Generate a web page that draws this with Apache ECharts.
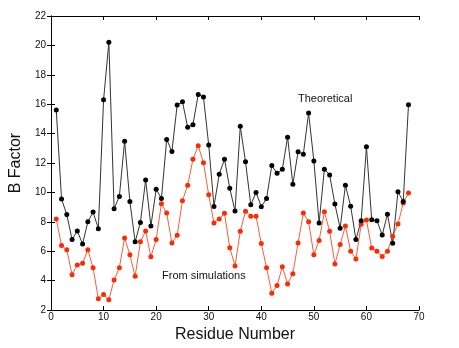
<!DOCTYPE html>
<html>
<head>
<meta charset="utf-8">
<style>
  html, body { margin: 0; padding: 0; background: #fff; }
  #chart { width: 459px; height: 348px; }
</style>
<script src="https://cdn.jsdelivr.net/npm/echarts@6/dist/echarts.min.js"></script>
</head>
<body>
<div id="chart"></div>
<script>
// Residue numbers along the chain
const residues = [];
for (let i = 1; i <= 68; i++) residues.push(i);

// B factors predicted by the theoretical model
const theoretical = [
  15.6, 9.55, 8.5, 6.8, 7.38, 6.49, 8.0, 8.67, 7.54, 16.3,
  20.22, 8.89, 9.73, 13.49, 9.39, 6.64, 7.95, 10.85, 7.72, 10.22,
  9.59, 13.6, 12.79, 15.95, 16.17, 14.43, 14.61, 16.66, 16.49, 13.22,
  9.05, 11.24, 12.25, 10.29, 8.74, 14.5, 12.08, 9.16, 10.0, 9.03,
  9.59, 11.83, 11.3, 11.57, 13.76, 10.56, 12.77, 12.6, 15.4, 12.14,
  7.93, 11.58, 11.19, 9.21, 7.57, 10.49, 9.07, 6.8, 8.08, 13.1,
  8.15, 8.08, 7.11, 8.51, 6.55, 10.04, 9.39, 15.97
];

// B factors obtained from the simulations
const simulated = [
  8.2, 6.39, 6.1, 4.41, 5.07, 5.18, 6.1, 4.88, 2.77, 3.06,
  2.7, 4.05, 4.88, 6.91, 5.76, 4.3, 6.64, 7.38, 5.63, 6.8,
  9.23, 8.6, 6.57, 7.09, 9.43, 10.49, 12.26, 13.18, 12.02, 9.84,
  7.93, 8.2, 8.58, 6.24, 5.0, 7.37, 8.72, 8.38, 8.38, 6.53,
  4.88, 3.15, 3.67, 4.95, 3.78, 4.48, 6.57, 8.6, 8.01, 5.76,
  6.73, 8.69, 7.36, 5.13, 6.46, 7.72, 6.01, 5.47, 7.84, 8.13,
  6.22, 6.01, 5.65, 6.01, 7.03, 7.86, 9.28, 9.97
];

const xTicks = { min: 0, max: 70, interval: 10 };
const yTicks = { min: 2, max: 22, interval: 2 };

const pair = (ys) => residues.map((r, i) => [r, ys[i]]);

const axisLine = { show: true, lineStyle: { color: '#000', width: 1 } };
const tickIn = { show: true, inside: true, length: 4, lineStyle: { color: '#000' } };
const font = 'Liberation Sans, Arial, sans-serif';

const chart = echarts.init(document.getElementById('chart'), null, { renderer: 'canvas' });
chart.setOption({
  animation: false,
  backgroundColor: '#fff',
  grid: { left: 47, right: 40, top: 16, bottom: 36, containLabel: false },
  xAxis: [
    {
      type: 'value', position: 'bottom', ...xTicks,
      name: 'Residue Number', nameLocation: 'middle', nameGap: 16,
      nameTextStyle: { fontFamily: font, fontSize: 16, color: '#111' },
      axisLine, axisTick: tickIn, splitLine: { show: false },
      axisLabel: { fontFamily: font, fontSize: 10, color: '#111', margin: 2 }
    },
    {
      type: 'value', position: 'top', ...xTicks,
      axisLine, axisTick: tickIn, splitLine: { show: false },
      axisLabel: { show: false }
    }
  ],
  yAxis: [
    {
      type: 'value', position: 'left', ...yTicks,
      name: 'B Factor', nameLocation: 'middle', nameGap: 22,
      nameTextStyle: { fontFamily: font, fontSize: 16, color: '#111' },
      axisLine, axisTick: tickIn, splitLine: { show: false },
      axisLabel: { fontFamily: font, fontSize: 10, color: '#111', margin: 5 }
    },
    {
      type: 'value', position: 'right', ...yTicks,
      axisLine, axisTick: tickIn, splitLine: { show: false },
      axisLabel: { show: false }
    }
  ],
  series: [
    {
      name: 'From simulations', type: 'line', data: pair(simulated),
      symbol: 'circle', symbolSize: 5,
      lineStyle: { color: '#ff5a3c', width: 1 },
      itemStyle: { color: '#ff2a00' }
    },
    {
      name: 'Theoretical', type: 'line', data: pair(theoretical),
      symbol: 'circle', symbolSize: 5,
      lineStyle: { color: '#333', width: 1 },
      itemStyle: { color: '#000' }
    }
  ],
  graphic: [
    {
      type: 'text', left: 298, top: 93,
      style: { text: 'Theoretical', fontFamily: font, fontSize: 11, fill: '#111' }
    },
    {
      type: 'text', left: 162, top: 270,
      style: { text: 'From simulations', fontFamily: font, fontSize: 11, fill: '#111' }
    }
  ]
});
</script>
</body>
</html>
